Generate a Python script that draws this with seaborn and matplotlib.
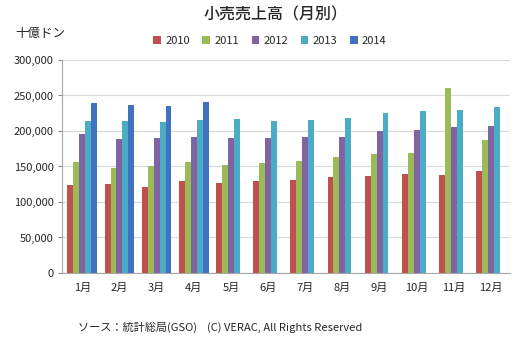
import matplotlib
matplotlib.use("Agg")
import matplotlib.pyplot as plt
import seaborn as sns
import pandas as pd
import numpy as np

months = ["1月", "2月", "3月", "4月", "5月", "6月", "7月", "8月", "9月", "10月", "11月", "12月"]
years = ["2010", "2011", "2012", "2013", "2014"]
v2010 = [124000, 125000, 121000, 130000, 127000, 130000, 131000, 135000, 136000, 140000, 138000, 144000]
v2011 = [156000, 148000, 151000, 156000, 152000, 155000, 158000, 163000, 167000, 169000, 261000, 187000]
v2012 = [196000, 189000, 190000, 192000, 190000, 190000, 191000, 192000, 200000, 202000, 206000, 207000]
v2013 = [214000, 214000, 213000, 215000, 217000, 214000, 215000, 218000, 225000, 228000, 229000, 234000]
v2014 = [240000, 236000, 235000, 241000, np.nan, np.nan, np.nan, np.nan, np.nan, np.nan, np.nan, np.nan]
colors = ["#C0504D", "#9BBB59", "#8064A2", "#4BACC6", "#3F73BE"]

series = [v2010, v2011, v2012, v2013, v2014]
rows = []
for y, vals in zip(years, series):
    for m, v in zip(months, vals):
        rows.append({"month": m, "year": y, "value": v})
df = pd.DataFrame(rows)

sns.set_style("white")
plt.rcParams["font.family"] = ["Noto Sans CJK JP", "DejaVu Sans"]

fig = plt.figure(figsize=(5.2, 3.37), dpi=100)
ax = fig.add_axes([0.119, 0.19, 0.861, 0.632])

sns.barplot(data=df, x="month", y="value", hue="year", order=months, hue_order=years,
            palette=colors, width=0.8, saturation=1, ax=ax, legend=True,
            edgecolor="none", linewidth=0)

ax.set_ylim(0, 300000)
ax.set_yticks(np.arange(0, 300001, 50000))
ax.set_yticklabels([f"{int(t):,}" for t in np.arange(0, 300001, 50000)], fontsize=8)
ax.tick_params(axis="x", labelsize=8, length=0, pad=7)
ax.tick_params(axis="y", length=3, color="#888888", left=True, pad=3)
ax.yaxis.grid(True, color="#D9D9D9", linewidth=0.8)
ax.set_axisbelow(True)
ax.set_xlabel("")
ax.set_ylabel("")
ax.set_xlim(-0.55, 11.5)
for s in ["top", "right"]:
    ax.spines[s].set_visible(False)
ax.spines["left"].set_color("#A6A6A6")
ax.spines["bottom"].set_color("#A6A6A6")

leg = ax.legend(loc="upper center", bbox_to_anchor=(0.465, 1.16), ncol=5, frameon=False,
                fontsize=8, handlelength=0.7, handleheight=0.7, handletextpad=0.4,
                columnspacing=1.1)

fig.text(0.53, 0.955, "小売売上高（月別）", ha="center", va="center", fontsize=11.5,
         fontweight="medium")
fig.text(0.03, 0.9, "十億ドン", ha="left", va="center", fontsize=9)
fig.text(0.15, 0.03, "ソース：統計総局(GSO)    (C) VERAC, All Rights Reserved",
         ha="left", va="center", fontsize=8)

fig.savefig("out.png", dpi=100)
